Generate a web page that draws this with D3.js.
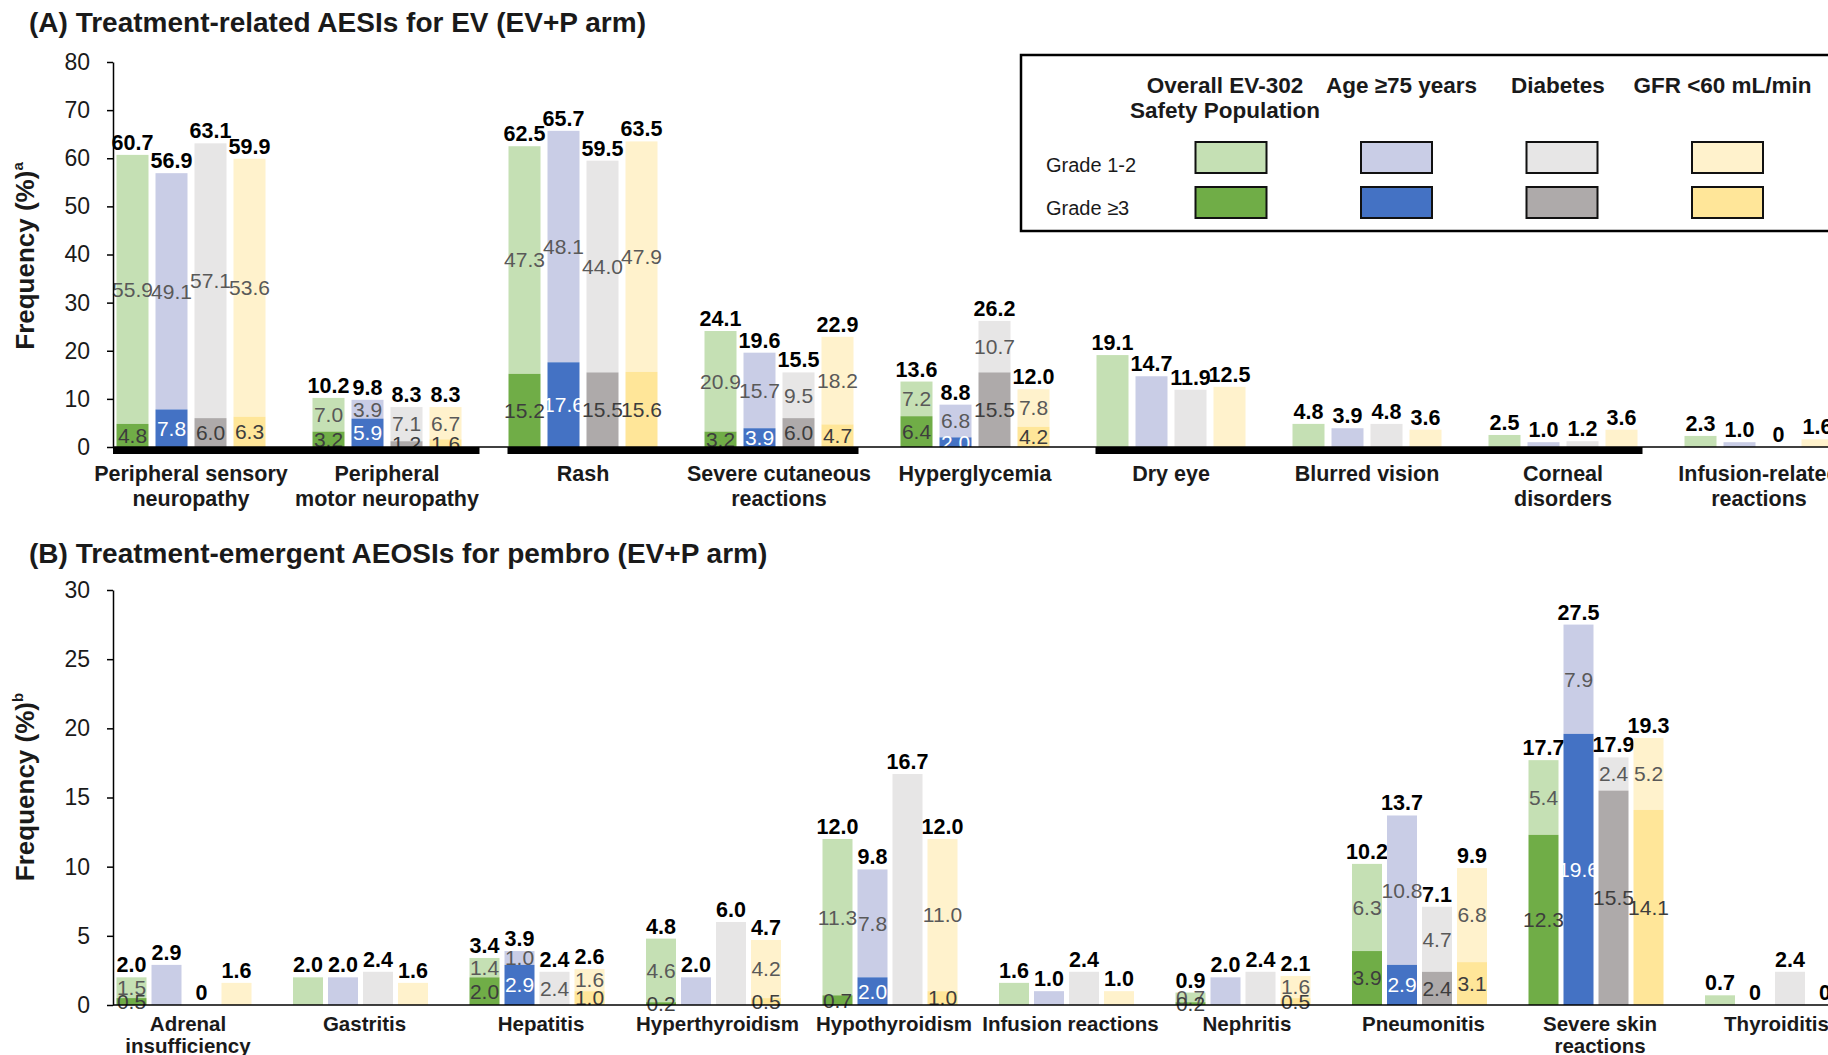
<!DOCTYPE html>
<html><head><meta charset="utf-8">
<script src="https://cdn.jsdelivr.net/npm/d3@7"></script>
<style>
html,body{margin:0;padding:0;background:#fff;}
svg{display:block;font-family:"Liberation Sans",Arial,Helvetica,sans-serif;}
</style></head><body>
<svg id="chart" width="1828" height="1055"></svg>
<script>
// ---------- DATA ----------
const seriesKeys = ["Overall", "Age75", "Diabetes", "GFR60"];
const legendHeaders = [["Overall EV-302", "Safety Population"], ["Age ≥75 years"], ["Diabetes"], ["GFR <60 mL/min"]];
const gradeLabels = ["Grade 1-2", "Grade ≥3"];

// Panel A: Treatment-related AESIs for EV
const titleA = "(A) Treatment-related AESIs for EV (EV+P arm)";
const categoriesA = ["Peripheral sensory\nneuropathy", "Peripheral\nmotor neuropathy", "Rash",
  "Severe cutaneous\nreactions", "Hyperglycemia", "Dry eye", "Blurred vision",
  "Corneal\ndisorders", "Infusion-related\nreactions"];
const totalsA = [
  [60.7, 56.9, 63.1, 59.9], [10.2, 9.8, 8.3, 8.3], [62.5, 65.7, 59.5, 63.5],
  [24.1, 19.6, 15.5, 22.9], [13.6, 8.8, 26.2, 12.0], [19.1, 14.7, 11.9, 12.5],
  [4.8, 3.9, 4.8, 3.6], [2.5, 1.0, 1.2, 3.6], [2.3, 1.0, 0, 1.6]];
const grade12A = [
  [55.9, 49.1, 57.1, 53.6], [7.0, 3.9, 7.1, 6.7], [47.3, 48.1, 44.0, 47.9],
  [20.9, 15.7, 9.5, 18.2], [7.2, 6.8, 10.7, 7.8], [null, null, null, null],
  [null, null, null, null], [null, null, null, null], [null, null, null, null]];
const grade3A = [
  [4.8, 7.8, 6.0, 6.3], [3.2, 5.9, 1.2, 1.6], [15.2, 17.6, 15.5, 15.6],
  [3.2, 3.9, 6.0, 4.7], [6.4, 2.0, 15.5, 4.2], [null, null, null, null],
  [null, null, null, null], [null, null, null, null], [null, null, null, null]];
const ticksA = [0, 10, 20, 30, 40, 50, 60, 70, 80];
const bracketGroupsA = [
  ["Peripheral sensory\nneuropathy", "Peripheral\nmotor neuropathy"],
  ["Rash", "Severe cutaneous\nreactions"],
  ["Dry eye", "Blurred vision", "Corneal\ndisorders"]];

// Panel B: Treatment-emergent AEOSIs for pembro
const titleB = "(B) Treatment-emergent AEOSIs for pembro (EV+P arm)";
const categoriesB = ["Adrenal\ninsufficiency", "Gastritis", "Hepatitis", "Hyperthyroidism",
  "Hypothyroidism", "Infusion reactions", "Nephritis", "Pneumonitis",
  "Severe skin\nreactions", "Thyroiditis"];
const totalsB = [
  [2.0, 2.9, 0, 1.6], [2.0, 2.0, 2.4, 1.6], [3.4, 3.9, 2.4, 2.6], [4.8, 2.0, 6.0, 4.7],
  [12.0, 9.8, 16.7, 12.0], [1.6, 1.0, 2.4, 1.0], [0.9, 2.0, 2.4, 2.1],
  [10.2, 13.7, 7.1, 9.9], [17.7, 27.5, 17.9, 19.3], [0.7, 0, 2.4, 0]];
const grade12B = [
  [1.5, null, null, null], [null, null, null, null], [1.4, 1.0, 2.4, 1.6], [4.6, null, null, 4.2],
  [11.3, 7.8, null, 11.0], [null, null, null, null], [0.7, null, null, 1.6],
  [6.3, 10.8, 4.7, 6.8], [5.4, 7.9, 2.4, 5.2], [null, null, null, null]];
const grade3B = [
  [0.5, null, null, null], [null, null, null, null], [2.0, 2.9, null, 1.0], [0.2, null, null, 0.5],
  [0.7, 2.0, null, 1.0], [null, null, null, null], [0.2, null, null, 0.5],
  [3.9, 2.9, 2.4, 3.1], [12.3, 19.6, 15.5, 14.1], [null, null, null, null]];
const ticksB = [0, 5, 10, 15, 20, 25, 30];

// ---------- STYLE ----------
const lightColors = ["#c5e0b4", "#c9cde6", "#e7e6e6", "#fff2cc"];
const darkColors = ["#70ad47", "#4472c4", "#aeaaaa", "#ffe699"];
const darkTextColors = ["#3d3d3d", "#ffffff", "#3d3d3d", "#3d3d3d"];
const lightTextColor = "#595959";

const svg = d3.select("#chart");

function drawPanel(p) {
  const x = d3.scaleBand().domain(p.categories).range(p.xRange);
  const inner = d3.scaleBand().domain(seriesKeys).range(p.innerRange).paddingInner(p.innerPad).paddingOuter(0);
  const y = d3.scaleLinear().domain(p.yDomain).range(p.yRange);
  const g = svg.append("g");

  // title
  g.append("text").attr("x", 29).attr("y", p.titleY).attr("font-size", 28).attr("font-weight", "bold")
    .attr("fill", "#1a1a1a").text(p.title);

  // y axis label
  const yl = g.append("text")
    .attr("transform", `translate(${p.yLabelX},${p.yLabelY}) rotate(-90)`)
    .attr("text-anchor", "middle").attr("font-size", 26).attr("font-weight", "bold").attr("fill", "#1a1a1a");
  yl.append("tspan").text("Frequency (%)");
  yl.append("tspan").attr("font-size", 15).attr("dy", -11).text(p.sup);

  // bars
  const recs = [];
  p.categories.forEach((c, ci) => seriesKeys.forEach((s, si) => {
    recs.push({c, s, si, total: p.totals[ci][si], g12: p.g12[ci][si], g3: p.g3[ci][si]});
  }));
  const bars = g.append("g").selectAll("g").data(recs).join("g")
    .attr("transform", d => `translate(${x(d.c) + inner(d.s)},0)`);
  bars.filter(d => d.total > 0).append("rect")
    .attr("x", 0).attr("width", inner.bandwidth())
    .attr("y", d => y(d.total)).attr("height", d => y(d.g3 || 0) - y(d.total))
    .attr("fill", d => lightColors[d.si]);
  bars.filter(d => d.g3 > 0).append("rect")
    .attr("x", 0).attr("width", inner.bandwidth())
    .attr("y", d => y(d.g3)).attr("height", d => y(0) - y(d.g3))
    .attr("fill", d => darkColors[d.si]);

  // inner labels
  const bw = inner.bandwidth();
  bars.filter(d => d.g12 != null).append("text")
    .attr("x", bw / 2).attr("y", d => (y(d.total) + y(d.g3 || 0)) / 2)
    .attr("dy", "0.35em").attr("text-anchor", "middle").attr("font-size", 21)
    .attr("fill", lightTextColor).text(d => d.g12.toFixed(1));
  bars.filter(d => d.g3 != null).append("text")
    .attr("x", bw / 2).attr("y", d => (y(d.g3) + y(0)) / 2)
    .attr("dy", "0.35em").attr("text-anchor", "middle").attr("font-size", 21)
    .attr("fill", d => darkTextColors[d.si]).text(d => d.g3.toFixed(1));
  // total labels
  bars.append("text")
    .attr("x", bw / 2).attr("y", d => y(d.total) - 5)
    .attr("text-anchor", "middle").attr("font-size", 21.5).attr("font-weight", "bold")
    .attr("fill", "#000").text(d => d.total === 0 ? "0" : d.total.toFixed(1));

  // x axis line
  g.append("line").attr("x1", p.axisX).attr("x2", 1828).attr("y1", y(0)).attr("y2", y(0))
    .attr("stroke", "#000").attr("stroke-width", 1.5);

  // brackets
  (p.brackets || []).forEach((grp, i) => {
    const first = grp[0], last = grp[grp.length - 1];
    const x0 = i === 0 ? p.axisX : x(first) + inner(seriesKeys[0]) - 1;
    const x1 = x(last) + inner(seriesKeys[3]) + bw + (i === 0 ? 18 : 5);
    g.append("rect").attr("x", x0).attr("y", y(0)).attr("width", x1 - x0).attr("height", 7).attr("fill", "#000");
  });

  // y axis
  const ax = g.append("g").attr("transform", `translate(${p.axisX},0)`)
    .call(d3.axisLeft(y).tickValues(p.ticks).tickSize(6).tickSizeOuter(0).tickPadding(17));
  ax.select(".domain").attr("stroke", "#000").attr("stroke-width", 1.5);
  ax.selectAll(".tick line").attr("stroke", "#000").attr("stroke-width", 1.5);
  ax.selectAll(".tick text").attr("font-size", 23).attr("fill", "#1a1a1a")
    .attr("font-family", "'Liberation Sans',Arial,sans-serif");

  // category labels
  const cl = g.append("g").selectAll("text").data(p.categories).join("text")
    .attr("x", d => x(d) + x.bandwidth() / 2 + p.catDx).attr("y", p.catLabelY)
    .attr("text-anchor", "middle").attr("font-size", p.catFont).attr("font-weight", "bold").attr("fill", "#1a1a1a");
  cl.each(function (d) {
    d.split("\n").forEach((line, i) => {
      d3.select(this).append("tspan").attr("x", x(d) + x.bandwidth() / 2 + p.catDx)
        .attr("dy", i === 0 ? 0 : p.catLineH).text(line);
    });
  });
}

drawPanel({
  title: titleA, titleY: 32, sup: "a",
  categories: categoriesA, totals: totalsA, g12: grade12A, g3: grade3A, ticks: ticksA,
  brackets: bracketGroupsA,
  xRange: [93, 93 + 9 * 196], innerRange: [23.5, 172.5], innerPad: 7 / 39,
  yDomain: [0, 80], yRange: [447, 62], axisX: 113,
  yLabelX: 34, yLabelY: 256, catLabelY: 481, catLineH: 25, catFont: 21.5, catDx: 0
});

drawPanel({
  title: titleB, titleY: 563, sup: "b",
  categories: categoriesB, totals: totalsB, g12: grade12B, g3: grade3B, ticks: ticksB,
  brackets: [],
  xRange: [95.75, 95.75 + 10 * 176.5], innerRange: [20.75, 155.75], innerPad: 5 / 35,
  yDomain: [0, 30], yRange: [1005, 590], axisX: 113,
  yLabelX: 34, yLabelY: 787, catLabelY: 1031, catLineH: 22, catFont: 20.5, catDx: 4
});

// ---------- LEGEND ----------
const lg = svg.append("g");
lg.append("rect").attr("x", 1021).attr("y", 55).attr("width", 900).attr("height", 176)
  .attr("fill", "#fff").attr("stroke", "#000").attr("stroke-width", 2.5);
const colX = d3.scalePoint().domain(seriesKeys).range([1231, 1231 + 3 * 165.5]);
const headerDx = [-6, 5, -4, -5];
seriesKeys.forEach((s, i) => {
  legendHeaders[i].forEach((line, li) => {
    lg.append("text").attr("x", colX(s) + headerDx[i]).attr("y", 93 + li * 25).attr("text-anchor", "middle")
      .attr("font-size", 22.5).attr("font-weight", "bold").attr("fill", "#1a1a1a").text(line);
  });
  [lightColors[i], darkColors[i]].forEach((c, ri) => {
    lg.append("rect").attr("x", colX(s) - 35.5).attr("y", 142 + ri * 45).attr("width", 71).attr("height", 31)
      .attr("fill", c).attr("stroke", "#111").attr("stroke-width", 2);
  });
});
gradeLabels.forEach((t, ri) => {
  lg.append("text").attr("x", 1046).attr("y", 165 + ri * 43).attr("dy", "0.35em")
    .attr("font-size", 20).attr("fill", "#1a1a1a").text(t);
});
</script>
</body></html>
